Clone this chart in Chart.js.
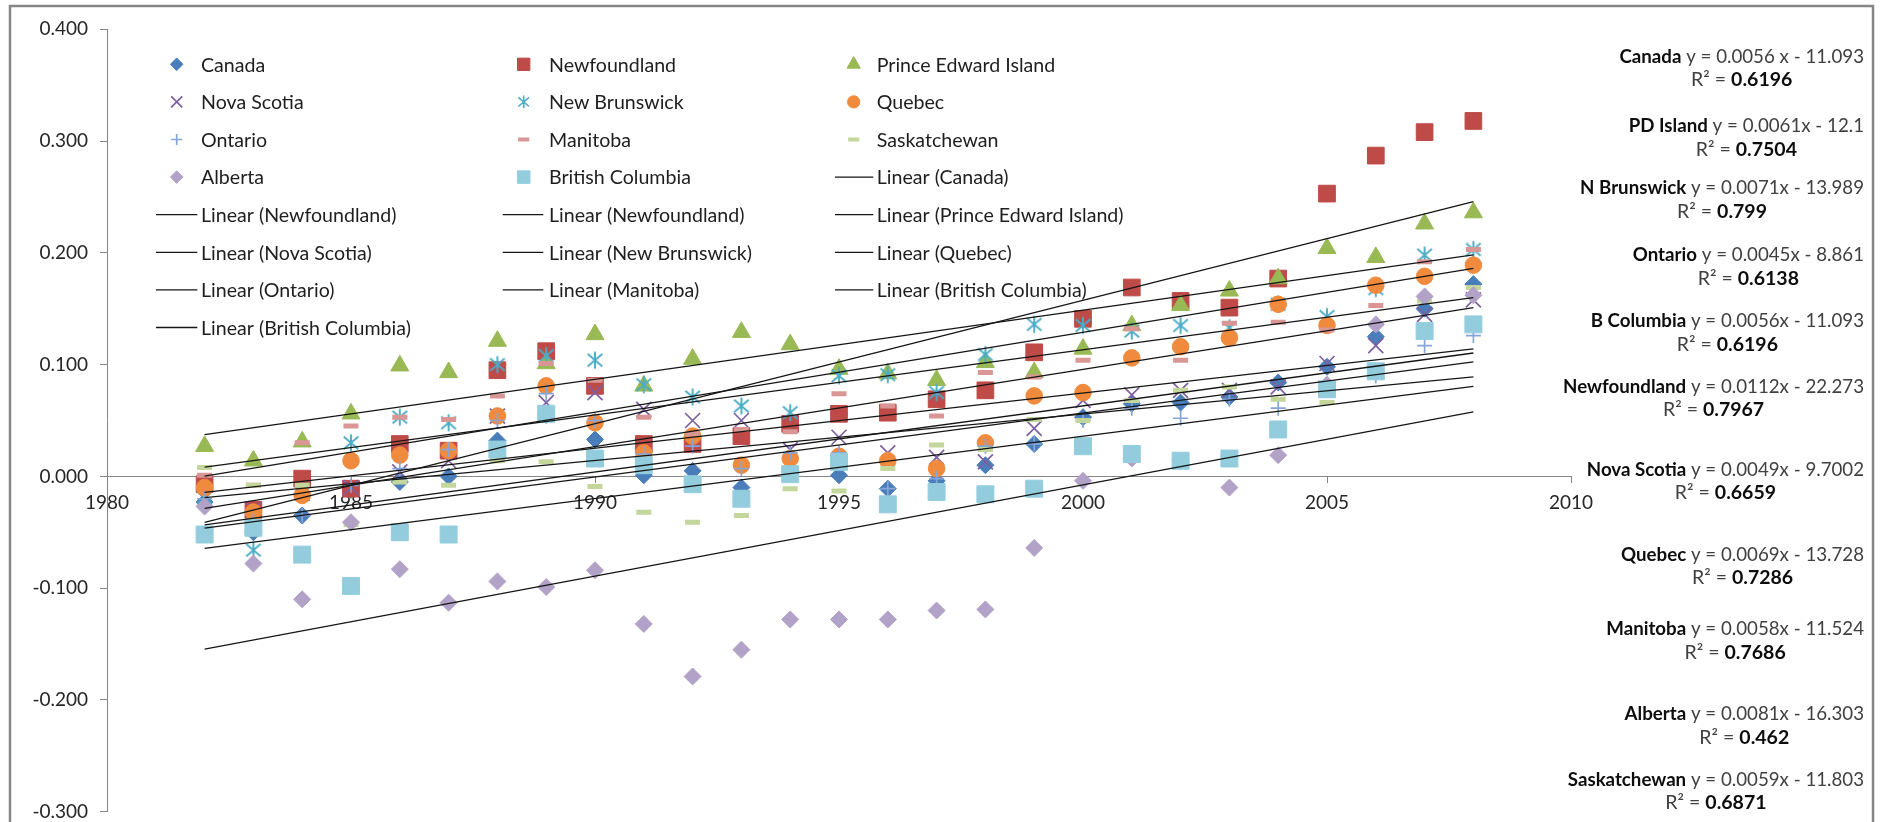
<!DOCTYPE html>
<html>
<head>
<meta charset="utf-8">
<script src="https://cdn.jsdelivr.net/npm/chart.js@4.4.1/dist/chart.umd.min.js"></script>
<style>
  html, body { margin: 0; padding: 0; background: #ffffff; }
  #wrap { width: 1886px; height: 822px; position: relative; overflow: hidden; }
</style>
</head>
<body>
<div id="wrap"><canvas id="c" width="1886" height="822"></canvas></div>
<script>
// ---- data -----------------------------------------------------------------
const years = [1982, 1983, 1984, 1985, 1986, 1987, 1988, 1989, 1990, 1991, 1992, 1993, 1994,
  1995, 1996, 1997, 1998, 1999, 2000, 2001, 2002, 2003, 2004, 2005, 2006, 2007, 2008];

const canada = [-0.023, -0.050, -0.035, -0.012, -0.005, 0.000, 0.032, 0.055, 0.033, 0.001, 0.005, -0.010, 0.005,
  0.001, -0.011, -0.004, 0.010, 0.029, 0.053, 0.065, 0.066, 0.071, 0.084, 0.098, 0.125, 0.150, 0.172];
const newfoundland = [-0.007, -0.030, -0.002, -0.011, 0.029, 0.023, 0.095, 0.112, 0.081, 0.029, 0.029, 0.036, 0.047,
  0.056, 0.057, 0.069, 0.077, 0.111, 0.141, 0.169, 0.157, 0.151, 0.177, 0.253, 0.287, 0.308, 0.318];
const princeEdwardIsland = [0.027, 0.014, 0.031, 0.056, 0.099, 0.093, 0.121, 0.101, 0.127, 0.081, 0.105, 0.129, 0.118,
  0.096, 0.092, 0.086, 0.102, 0.093, 0.114, 0.135, 0.153, 0.166, 0.177, 0.204, 0.196, 0.226, 0.236];
const novaScotia = [-0.020, -0.030, -0.015, -0.010, 0.004, 0.014, 0.054, 0.066, 0.075, 0.060, 0.050, 0.050, 0.024,
  0.035, 0.021, 0.017, 0.013, 0.043, 0.068, 0.073, 0.077, 0.077, 0.080, 0.101, 0.117, 0.145, 0.158];
const newBrunswick = [-0.019, -0.066, -0.015, 0.030, 0.053, 0.048, 0.100, 0.108, 0.104, 0.082, 0.071, 0.063, 0.057,
  0.090, 0.091, 0.075, 0.109, 0.136, 0.135, 0.130, 0.135, 0.133, 0.154, 0.143, 0.168, 0.198, 0.203];
const quebec = [-0.010, -0.032, -0.017, 0.014, 0.019, 0.023, 0.054, 0.081, 0.048, 0.021, 0.036, 0.010, 0.016,
  0.018, 0.014, 0.007, 0.030, 0.072, 0.075, 0.106, 0.116, 0.124, 0.154, 0.135, 0.171, 0.179, 0.189];
const ontario = [-0.020, -0.040, -0.035, -0.008, 0.007, 0.024, 0.050, 0.074, 0.050, 0.020, 0.027, 0.007, 0.021,
  0.021, -0.011, -0.002, 0.027, 0.029, 0.050, 0.061, 0.052, 0.069, 0.061, 0.080, 0.090, 0.117, 0.126];
const manitoba = [0.001, -0.008, 0.030, 0.045, 0.053, 0.051, 0.072, 0.101, 0.086, 0.053, 0.038, 0.042, 0.040,
  0.074, 0.063, 0.054, 0.093, 0.089, 0.104, 0.132, 0.104, 0.137, 0.138, 0.131, 0.153, 0.192, 0.203];
const saskatchewan = [0.008, -0.008, -0.008, -0.043, -0.005, -0.008, 0.014, 0.013, -0.009, -0.032, -0.041, -0.035, -0.011,
  -0.013, 0.007, 0.028, 0.024, 0.051, 0.050, 0.068, 0.077, 0.080, 0.069, 0.066, 0.092, 0.157, 0.169];
const alberta = [-0.027, -0.078, -0.110, -0.041, -0.083, -0.113, -0.094, -0.099, -0.084, -0.132, -0.179, -0.155, -0.128,
  -0.128, -0.128, -0.120, -0.119, -0.064, -0.004, 0.016, 0.014, -0.010, 0.019, 0.082, 0.136, 0.161, 0.162];
const britishColumbia = [-0.052, -0.046, -0.070, -0.098, -0.050, -0.052, 0.024, 0.056, 0.016, 0.010, -0.007, -0.020, 0.002,
  0.013, -0.025, -0.014, -0.016, -0.011, 0.027, 0.020, 0.014, 0.016, 0.042, 0.078, 0.094, 0.130, 0.136];

const seriesNames = ['Canada', 'Newfoundland', 'Prince Edward Island', 'Nova Scotia', 'New Brunswick', 'Quebec',
  'Ontario', 'Manitoba', 'Saskatchewan', 'Alberta', 'British Columbia'];
const seriesValues = [canada, newfoundland, princeEdwardIsland, novaScotia, newBrunswick, quebec,
  ontario, manitoba, saskatchewan, alberta, britishColumbia];
const trendNames = ['Linear (Canada)', 'Linear (Newfoundland)', 'Linear (Newfoundland)', 'Linear (Prince Edward Island)',
  'Linear (Nova Scotia)', 'Linear (New Brunswick)', 'Linear (Quebec)', 'Linear (Ontario)', 'Linear (Manitoba)',
  'Linear (British Columbia)', 'Linear (British Columbia)'];

const xTicks = [1980, 1985, 1990, 1995, 2000, 2005, 2010];
const yTicks = [-0.3, -0.2, -0.1, 0, 0.1, 0.2, 0.3, 0.4];

const eqNames = ['Canada', 'PD Island', 'N Brunswick', 'Ontario', 'B Columbia', 'Newfoundland', 'Nova Scotia',
  'Quebec', 'Manitoba', 'Alberta', 'Saskatchewan'];
const eqFormulas = ['y = 0.0056 x - 11.093', 'y = 0.0061x - 12.1', 'y = 0.0071x - 13.989', 'y = 0.0045x - 8.861',
  'y = 0.0056x - 11.093', 'y = 0.0112x - 22.273', 'y = 0.0049x - 9.7002', 'y = 0.0069x - 13.728',
  'y = 0.0058x - 11.524', 'y = 0.0081x - 16.303', 'y = 0.0059x - 11.803'];
const eqR2 = ['0.6196', '0.7504', '0.799', '0.6138', '0.6196', '0.7967', '0.6659', '0.7286', '0.7686', '0.462', '0.6871'];

// ---- styles ---------------------------------------------------------------
const FONT = 'Lato, "Open Sans", sans-serif';
const markerStyles = [
  { style: 'rectRot',  color: '#4a7ebb', r: 8.5,  lw: 1 },
  { style: 'rect',     color: '#be4b48', r: 11.8, lw: 1 },
  { style: 'triangle', color: '#98b954', r: 10.4, lw: 1 },
  { style: 'crossRot', color: '#7d60a0', r: 10.6, lw: 1.7 },
  { style: 'asterisk', color: '#4bacc6', r: 8.6,  lw: 1.9 },
  { style: 'circle',   color: '#f08b3e', r: 8.3,  lw: 1 },
  { style: 'cross',    color: '#86a5d9', r: 7.5,  lw: 1.7 },
  { style: 'line',     color: '#d99694', r: 7.5,  lw: 5 },
  { style: 'line',     color: '#c3d69b', r: 7.5,  lw: 5 },
  { style: 'rectRot',  color: '#b3a2c7', r: 8.5,  lw: 1 },
  { style: 'rect',     color: '#93cddd', r: 12,   lw: 1 }
];

function strokeAsterisk(ctx, x, y, r, color, lw) {
  ctx.save();
  ctx.strokeStyle = color;
  ctx.lineWidth = lw;
  ctx.beginPath();
  ctx.moveTo(x, y - r); ctx.lineTo(x, y + r);
  const dx = r * 0.85, dy = r * 0.72;
  ctx.moveTo(x - dx, y - dy); ctx.lineTo(x + dx, y + dy);
  ctx.moveTo(x - dx, y + dy); ctx.lineTo(x + dx, y - dy);
  ctx.stroke();
  ctx.restore();
}
function asteriskImage(r, color, lw) {
  const s = Math.ceil(2 * r + lw + 2);
  const cv = document.createElement('canvas');
  cv.width = s; cv.height = s;
  strokeAsterisk(cv.getContext('2d'), s / 2, s / 2, r, color, lw);
  return cv;
}

function drawMarker(ctx, m, x, y, scale) {
  const r = m.r * scale;
  if (m.style === 'asterisk') { strokeAsterisk(ctx, x, y, r, m.color, m.lw * Math.max(scale, 0.8)); return; }
  ctx.save();
  ctx.fillStyle = m.color;
  ctx.strokeStyle = m.color;
  ctx.lineWidth = (m.style === 'line') ? m.lw * 0.8 : m.lw;
  Chart.helpers.drawPoint(ctx, { pointStyle: m.style, radius: r, rotation: 0, borderWidth: ctx.lineWidth }, x, y);
  ctx.restore();
}

// least-squares line through a series
function fitLine(xs, ys) {
  const n = xs.length;
  let sx = 0, sy = 0, sxx = 0, sxy = 0;
  for (let i = 0; i < n; i++) { sx += xs[i]; sy += ys[i]; sxx += xs[i] * xs[i]; sxy += xs[i] * ys[i]; }
  const b = (n * sxy - sx * sy) / (n * sxx - sx * sx);
  const a = (sy - b * sx) / n;
  return { a, b };
}

// ---- datasets -------------------------------------------------------------
const datasets = [];
seriesNames.forEach((name, i) => {
  const m = markerStyles[i];
  const ps = m.style === 'asterisk' ? asteriskImage(m.r, m.color, m.lw) : m.style;
  datasets.push({
    type: 'scatter',
    label: name,
    data: years.map((yr, k) => ({ x: yr, y: seriesValues[i][k] })),
    pointStyle: ps,
    pointRadius: m.r,
    pointHoverRadius: m.r,
    pointBackgroundColor: m.color,
    pointBorderColor: m.color,
    pointBorderWidth: m.lw,
    showLine: false,
    order: 20 - i
  });
});
seriesNames.forEach((name, i) => {
  const f = fitLine(years, seriesValues[i]);
  const x0 = years[0], x1 = years[years.length - 1];
  datasets.push({
    type: 'line',
    label: trendNames[i],
    data: [{ x: x0, y: f.a + f.b * x0 }, { x: x1, y: f.a + f.b * x1 }],
    borderColor: '#151515',
    borderWidth: 1.3,
    pointRadius: 0,
    pointHoverRadius: 0,
    fill: false,
    order: 0
  });
});

// ---- plugins --------------------------------------------------------------
const frame = {
  id: 'frame',
  beforeDraw(chart) {
    const ctx = chart.ctx;
    ctx.save();
    ctx.fillStyle = '#ffffff';
    ctx.fillRect(0, 0, chart.width, chart.height);
    ctx.strokeStyle = '#868686';
    ctx.lineWidth = 2.5;
    ctx.strokeRect(10, 6, 1863, 840);
    ctx.restore();
  }
};

const legendCols = [
  { mx: 176.7, lx1: 156, lx2: 197.3, tx: 201 },
  { mx: 523.7, lx1: 502.7, lx2: 543.3, tx: 549 },
  { mx: 853.7, lx1: 835, lx2: 873.3, tx: 876.7 }
];
const legendTop = 64.3, legendStep = 37.6;

const gridLegend = {
  id: 'gridLegend',
  afterDraw(chart) {
    const ctx = chart.ctx;
    const items = chart.data.datasets.map((ds, i) => ({ ds, i }));
    ctx.save();
    ctx.font = '19.6px ' + FONT;
    ctx.textBaseline = 'middle';
    ctx.textAlign = 'left';
    items.forEach((it, k) => {
      const col = legendCols[k % 3];
      const y = legendTop + Math.floor(k / 3) * legendStep;
      if (it.i < seriesNames.length) {
        drawMarker(ctx, markerStyles[it.i], col.mx, y, 0.74);
      } else {
        ctx.save();
        ctx.strokeStyle = '#151515';
        ctx.lineWidth = 1.3;
        ctx.beginPath();
        ctx.moveTo(col.lx1, y); ctx.lineTo(col.lx2, y);
        ctx.stroke();
        ctx.restore();
      }
      ctx.fillStyle = '#1e1e1e';
      ctx.fillText(it.ds.label, col.tx, y + 1);
    });
    ctx.restore();
  }
};

const eqRight = 1864;
const eqLine1 = [56.5, 125.8, 188, 255.2, 321, 386.7, 469.7, 554.6, 629.4, 714, 779.6];
const eqLineGap = 23.5;

const equations = {
  id: 'equations',
  afterDraw(chart) {
    const ctx = chart.ctx;
    ctx.save();
    ctx.textBaseline = 'middle';
    ctx.textAlign = 'left';
    const bold = 'bold 18.7px ' + FONT, reg = '18.7px ' + FONT;
    const bold2 = 'bold 19.5px ' + FONT, reg2 = '19.5px ' + FONT;
    eqNames.forEach((name, i) => {
      ctx.font = bold; const wn = ctx.measureText(name).width;
      ctx.font = reg; const wf = ctx.measureText(' ' + eqFormulas[i]).width;
      const w = wn + wf, left = eqRight - w, y = eqLine1[i];
      ctx.font = bold; ctx.fillStyle = '#0d0d0d'; ctx.fillText(name, left, y);
      ctx.font = reg; ctx.fillStyle = '#404040'; ctx.fillText(' ' + eqFormulas[i], left + wn, y);
      const pre = 'R\u00B2 = ';
      ctx.font = reg2; const wp = ctx.measureText(pre).width;
      ctx.font = bold2; const wv = ctx.measureText(eqR2[i]).width;
      const l2 = left + w / 2 - (wp + wv) / 2, y2 = y + eqLineGap;
      ctx.font = reg2; ctx.fillStyle = '#404040'; ctx.fillText(pre, l2, y2);
      ctx.font = bold2; ctx.fillStyle = '#0d0d0d'; ctx.fillText(eqR2[i], l2 + wp, y2);
    });
    ctx.restore();
  }
};

// ---- chart ----------------------------------------------------------------
function build() {
  new Chart(document.getElementById('c'), {
    data: { datasets },
    options: {
      responsive: false,
      animation: false,
      devicePixelRatio: 1,
      events: [],
      layout: { autoPadding: false, padding: { left: 0, right: 315, top: 29.3, bottom: 10.3 } },
      plugins: { legend: { display: false }, tooltip: { enabled: false } },
      scales: {
        x: {
          type: 'linear',
          min: xTicks[0],
          max: xTicks[xTicks.length - 1],
          position: { y: 0 },
          afterBuildTicks: (s) => { s.ticks = xTicks.map(v => ({ value: v })); },
          ticks: {
            callback: (v) => String(v),
            font: { family: FONT, size: 19 },
            color: '#262626',
            padding: 9,
            maxRotation: 0,
            autoSkip: false
          },
          grid: { drawOnChartArea: false, drawTicks: true, tickLength: 6, color: '#868686', lineWidth: 1 },
          border: { display: true, color: '#868686', width: 1 }
        },
        y: {
          type: 'linear',
          min: yTicks[0],
          max: yTicks[yTicks.length - 1],
          position: 'left',
          afterFit: (s) => { s.width = 107; s.paddingTop = 0; s.paddingBottom = 0; },
          afterBuildTicks: (s) => { s.ticks = yTicks.map(v => ({ value: v })); },
          ticks: {
            callback: (v) => Number(v).toFixed(3),
            font: { family: FONT, size: 19 },
            color: '#262626',
            padding: 12,
            autoSkip: false
          },
          grid: { drawOnChartArea: false, drawTicks: true, tickLength: 7, color: '#868686', lineWidth: 1 },
          border: { display: true, color: '#868686', width: 1 }
        }
      }
    },
    plugins: [frame, gridLegend, equations]
  });
}

if (document.fonts && document.fonts.load) {
  Promise.all([document.fonts.load('19px Lato'), document.fonts.load('bold 18px Lato')])
    .then(build, build);
} else {
  build();
}
</script>
</body>
</html>
